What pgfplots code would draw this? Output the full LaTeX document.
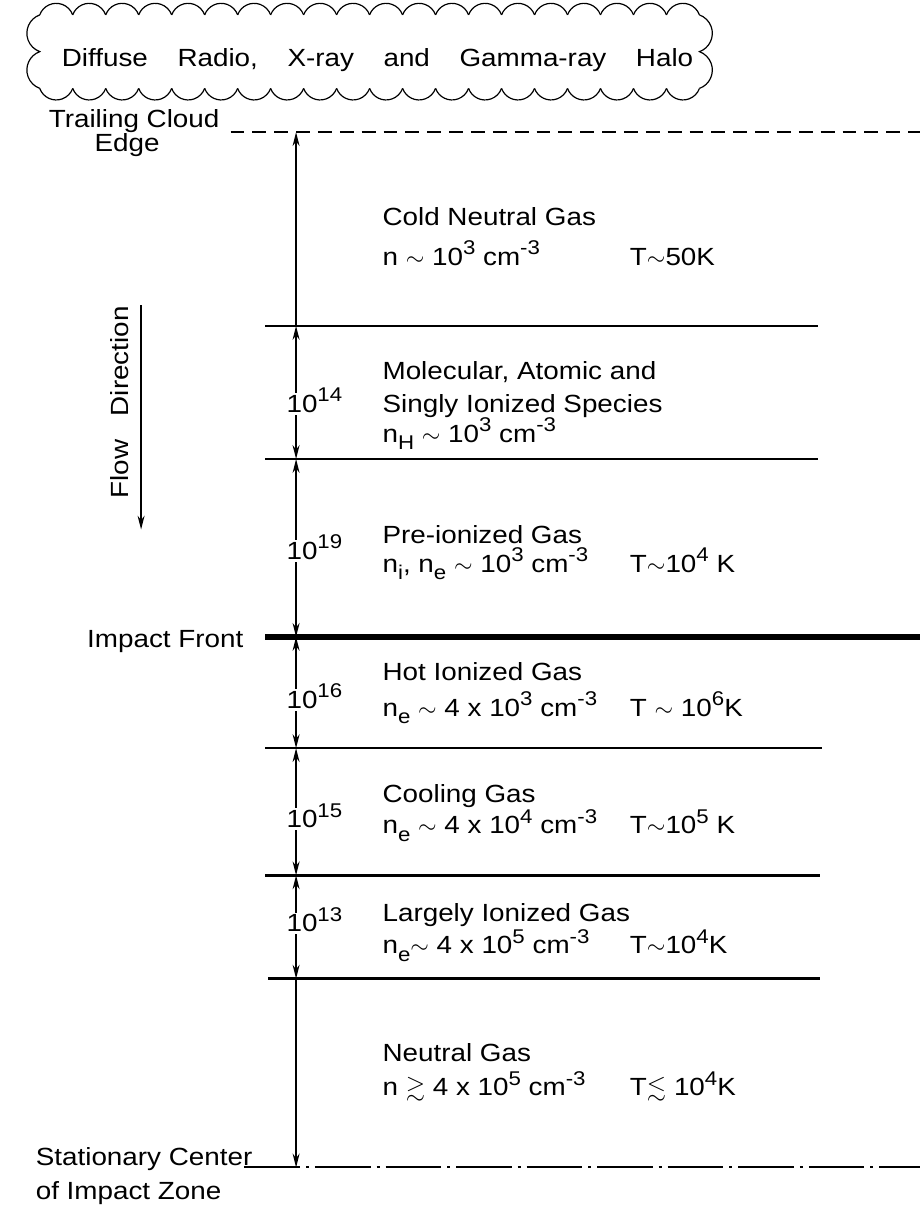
\documentclass[border=0pt]{standalone}
\usepackage{amssymb}
\usepackage{pgfplots}
\pgfplotsset{compat=1.18}
\usepackage{fontspec}
\setmainfont{Liberation Sans}[FakeStretch=1.12]
\usetikzlibrary{arrows.meta}
\newcommand{\sx}[1]{\raisebox{0.42em}[0pt][0pt]{\fontsize{10}{10}\selectfont #1}}
\newcommand{\sbx}[1]{\raisebox{-0.3em}[0pt][0pt]{\fontsize{10}{10}\selectfont #1}}
\begin{document}
\begin{tikzpicture}[font=\fontsize{12.5}{15}\selectfont]
\begin{axis}[width=463pt, height=605.5pt, scale only axis, at={(0,0)}, anchor=south west,
  xmin=0, xmax=926, ymin=0, ymax=1211, y dir=reverse,
  axis line style={draw=none}, ticks=none, clip=false]
% boundary lines
\addplot[black, line width=1pt, dash pattern=on 7pt off 4pt, forget plot] coordinates {(232,133) (926,133)};
\addplot[black, line width=1.3pt, forget plot] coordinates {(267,328) (823,328)};
\addplot[black, line width=1.3pt, forget plot] coordinates {(267,462) (823,462)};
\addplot[black, line width=3pt, forget plot] coordinates {(267,641) (926,641)};
\addplot[black, line width=1.3pt, forget plot] coordinates {(267,753) (827,753)};
\addplot[black, line width=1.3pt, forget plot] coordinates {(267,881) (825,881)};
\addplot[black, line width=1.3pt, forget plot] coordinates {(270,985) (825,985)};
\addplot[black, line width=1pt, dash pattern=on 28pt off 3pt on 1.5pt off 3pt, forget plot] coordinates {(246,1175) (926,1175)};
% vertical dimension arrows
\addplot[black, line width=0.8pt, {Stealth[length=7pt,width=3.5pt]}-, forget plot] coordinates {(298,133) (298,328)};
\addplot[black, line width=0.8pt, {Stealth[length=7pt,width=3.5pt]}-{Stealth[length=7pt,width=3.5pt]}, forget plot] coordinates {(298,328) (298,462)};
\addplot[black, line width=0.8pt, {Stealth[length=7pt,width=3.5pt]}-{Stealth[length=7pt,width=3.5pt]}, forget plot] coordinates {(298,462) (298,641)};
\addplot[black, line width=0.8pt, {Stealth[length=7pt,width=3.5pt]}-{Stealth[length=7pt,width=3.5pt]}, forget plot] coordinates {(298,641) (298,753)};
\addplot[black, line width=0.8pt, {Stealth[length=7pt,width=3.5pt]}-{Stealth[length=7pt,width=3.5pt]}, forget plot] coordinates {(298,753) (298,881)};
\addplot[black, line width=0.8pt, {Stealth[length=7pt,width=3.5pt]}-{Stealth[length=7pt,width=3.5pt]}, forget plot] coordinates {(298,881) (298,985)};
\addplot[black, line width=0.8pt, -{Stealth[length=7pt,width=3.5pt]}, forget plot] coordinates {(298,985) (298,1175)};
% flow direction arrow
\addplot[black, line width=0.8pt, -{Stealth[length=7pt,width=3.5pt]}, forget plot] coordinates {(142,307) (142,533)};
% title in cloud
\node[anchor=base] at (380,67) {Diffuse\hspace{11pt} Radio,\hspace{11pt} X-ray\hspace{11pt} and\hspace{11pt} Gamma-ray\hspace{11pt} Halo};
% left labels
\node[anchor=base] at (135,128) {Trailing Cloud};
\node[anchor=base] at (128,152) {Edge};
\node[anchor=base, rotate=90] at (129,405) {Flow\hspace{8pt} Direction};
\node[anchor=base east] at (252,652) {Impact Front};
\node[anchor=base west] at (29,1173) {Stationary Center};
\node[anchor=base west] at (29,1207) {of Impact Zone};
% exponents on the arrow
\node[anchor=base west, fill=white, inner sep=1pt] at (286,415) {10\sx{14}\phantom{4}};
\node[anchor=base west, fill=white, inner sep=1pt] at (286,563) {10\sx{19}\phantom{4}};
\node[anchor=base west, fill=white, inner sep=1pt] at (286,713) {10\sx{16}\phantom{4}};
\node[anchor=base west, fill=white, inner sep=1pt] at (286,833) {10\sx{15}\phantom{4}};
\node[anchor=base west, fill=white, inner sep=1pt] at (286,938) {10\sx{13}\phantom{4}};
% region descriptions
\node[anchor=base west] at (378,227) {Cold Neutral Gas};
\node[anchor=base west] at (378,267) {n $\sim$ 10\sx{3} cm\sx{-3}};
\node[anchor=base west] at (627,267) {T$\sim$50K};
\node[anchor=base west] at (378,382) {Molecular, Atomic and};
\node[anchor=base west] at (378,415) {Singly Ionized Species};
\node[anchor=base west] at (378,445) {n\sbx{H} $\sim$ 10\sx{3} cm\sx{-3}};
\node[anchor=base west] at (378,547) {Pre-ionized Gas};
\node[anchor=base west] at (378,576) {n\sbx{i}, n\sbx{e} $\sim$ 10\sx{3} cm\sx{-3}};
\node[anchor=base west] at (627,576) {T$\sim$10\sx{4} K};
\node[anchor=base west] at (378,685) {Hot Ionized Gas};
\node[anchor=base west] at (378,721) {n\sbx{e} $\sim$ 4 x 10\sx{3} cm\sx{-3}};
\node[anchor=base west] at (627,721) {T $\sim$ 10\sx{6}K};
\node[anchor=base west] at (378,808) {Cooling Gas};
\node[anchor=base west] at (378,839) {n\sbx{e} $\sim$ 4 x 10\sx{4} cm\sx{-3}};
\node[anchor=base west] at (627,839) {T$\sim$10\sx{5} K};
\node[anchor=base west] at (378,927) {Largely Ionized Gas};
\node[anchor=base west] at (378,960) {n\sbx{e}$\sim$ 4 x 10\sx{5} cm\sx{-3}};
\node[anchor=base west] at (627,960) {T$\sim$10\sx{4}K};
\node[anchor=base west] at (378,1068) {Neutral Gas};
\node[anchor=base west] at (378,1103) {n $\gtrsim$ 4 x 10\sx{5} cm\sx{-3}};
\node[anchor=base west] at (627,1103) {T$\lesssim$ 10\sx{4}K};
\end{axis}
% cloud outline (absolute: 1 px = 0.5pt, y from bottom)
\begin{scope}[line width=0.6pt]
\foreach \i in {0,...,19} {
  \draw ({20+16.6*\i pt},598pt) arc[start angle=160, end angle=20, radius=8.83pt];
  \draw ({20+16.6*\i pt},561pt) arc[start angle=200, end angle=340, radius=8.83pt];
}
\draw (20pt,598pt) arc[start angle=110, end angle=250, radius=9.84pt]
                   arc[start angle=110, end angle=250, radius=9.84pt];
\draw (352pt,561pt) arc[start angle=-70, end angle=70, radius=9.84pt]
                    arc[start angle=-70, end angle=70, radius=9.84pt];
\end{scope}
\end{tikzpicture}
\end{document}
